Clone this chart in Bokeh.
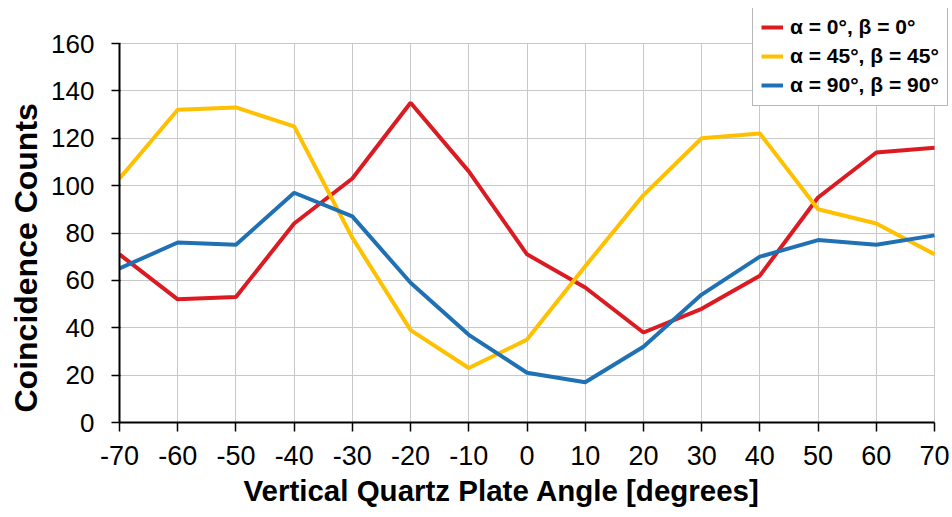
from bokeh.plotting import figure
from bokeh.models import Range1d, FixedTicker, Legend, LegendItem, Title
from bokeh.embed import file_html
from bokeh.resources import INLINE

angles = [-70, -60, -50, -40, -30, -20, -10, 0, 10, 20, 30, 40, 50, 60, 70]
red_0_0 = [71, 52, 53, 84, 103, 135, 106, 71, 57, 38, 48, 62, 95, 114, 116]
yellow_45_45 = [103, 132, 133, 125, 78, 39, 23, 35, 66, 96, 120, 122, 90, 84, 71]
blue_90_90 = [65, 76, 75, 97, 87, 59, 37, 21, 17, 32, 54, 70, 77, 75, 79]
series_labels = ["α = 0°, β = 0°", "α = 45°, β = 45°", "α = 90°, β = 90°"]
x_ticks = [-70, -60, -50, -40, -30, -20, -10, 0, 10, 20, 30, 40, 50, 60, 70]
y_ticks = [0, 20, 40, 60, 80, 100, 120, 140, 160]
x_title = "Vertical Quartz Plate Angle [degrees]"
y_title = "Coincidence Counts"

colors = ["#DC1A22", "#FFC000", "#2070B4"]

# frame geometry (px): the frame extends beyond the data box so that the
# legend can sit above/right of the data box without being clipped
W, H = 952, 517
B_LEFT, B_RIGHT, B_TOP, B_BOTTOM = 119, 2, 8, 95
DATA_W, DATA_H = 815, 379   # pixel size of the [-70,70] x [0,160] data box
x0, x1 = x_ticks[0], x_ticks[-1]
y0, y1 = y_ticks[0], y_ticks[-1]
frame_w = W - B_LEFT - B_RIGHT
frame_h = H - B_TOP - B_BOTTOM
x_end = x0 + (x1 - x0) * frame_w / DATA_W
y_end = y0 + (y1 - y0) * frame_h / DATA_H

p = figure(width=W, height=H, output_backend="svg", toolbar_location=None,
           x_range=Range1d(x0, x_end), y_range=Range1d(y0, y_end),
           min_border_left=B_LEFT, min_border_right=B_RIGHT,
           min_border_top=B_TOP, min_border_bottom=B_BOTTOM)
p.outline_line_color = None
p.background_fill_color = "white"
p.border_fill_color = "white"

p.xgrid.grid_line_color = "#c8c8c8"
p.ygrid.grid_line_color = "#c8c8c8"
p.xgrid.grid_line_width = 1
p.ygrid.grid_line_width = 1
p.xgrid.bounds = (x0, x1)
p.ygrid.bounds = (y0, y1)
p.xgrid.cross_bounds = (y0, y1)
p.ygrid.cross_bounds = (x0, x1)

renderers = []
for ys, c in zip([red_0_0, yellow_45_45, blue_90_90], colors):
    r = p.line(angles, ys, line_color=c, line_width=4)
    renderers.append(r)

p.xaxis.ticker = FixedTicker(ticks=x_ticks)
p.yaxis.ticker = FixedTicker(ticks=y_ticks)
p.xaxis.bounds = (x0, x1)
p.yaxis.bounds = (y0, y1)
p.xaxis.major_label_overrides = {v: str(v) for v in x_ticks}
p.xaxis.minor_tick_line_color = None
p.yaxis.minor_tick_line_color = None

for ax in (p.xaxis, p.yaxis):
    ax.axis_line_color = "black"
    ax.axis_line_width = 2
    ax.major_tick_line_color = "black"
    ax.major_tick_line_width = 1.5
    ax.major_label_text_color = "black"
    ax.major_label_text_font = "Liberation Sans"

p.yaxis.major_tick_out = 8
p.yaxis.major_tick_in = 1
p.yaxis.major_label_standoff = 17
p.yaxis.major_label_text_font_size = "26px"

p.xaxis.major_tick_out = 9
p.xaxis.major_tick_in = 0
p.xaxis.major_label_standoff = 14
p.xaxis.major_label_text_font_size = "27px"

xt = Title(text=x_title, align="left", vertical_align="top", offset=124,
           standoff=12, text_font="Liberation Sans", text_font_style="bold",
           text_font_size="29.5px", text_color="black")
p.add_layout(xt, "below")
yt = Title(text=y_title, align="left", vertical_align="top", offset=10,
           standoff=5, text_font="Liberation Sans", text_font_style="bold",
           text_font_size="32px", text_color="black")
p.add_layout(yt, "left")

items = [LegendItem(label=lab, renderers=[r]) for lab, r in zip(series_labels, renderers)]
legend = Legend(items=items, location=(633, 316))
legend.border_line_color = "#707070"
legend.border_line_width = 1
legend.background_fill_color = "white"
legend.background_fill_alpha = 1
legend.padding = 8
legend.spacing = 5
legend.glyph_width = 22
legend.glyph_height = 20
legend.label_height = 20
legend.label_standoff = 7
legend.label_text_font = "Liberation Sans"
legend.label_text_font_style = "bold"
legend.label_text_font_size = "21px"
legend.label_text_color = "black"
legend.margin = 0
p.add_layout(legend)

open("out.html", "w").write(file_html(p, INLINE))
